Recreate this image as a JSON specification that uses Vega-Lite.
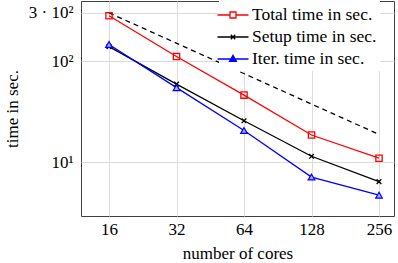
{
  "$schema": "https://vega.github.io/schema/vega-lite/v6.json",
  "width": 313,
  "height": 215,
  "autosize": {"type": "none"},
  "padding": {"left": 81, "top": 1, "right": 4, "bottom": 47},
  "background": "white",
  "config": {
    "view": {"stroke": "#404040", "strokeWidth": 1},
    "font": "Liberation Serif",
    "axis": {
      "labelFont": "Liberation Serif",
      "labelFontSize": 17,
      "labelColor": "#000000",
      "titleFont": "Liberation Serif",
      "titleFontSize": 17,
      "titleFontWeight": "normal",
      "titleColor": "#000000",
      "gridColor": "#dcdcdc",
      "gridWidth": 1,
      "domain": false,
      "ticks": false
    }
  },
  "datasets": {
    "main": [
      {"series": "Total time in sec.", "cores": 16, "time": 281},
      {"series": "Total time in sec.", "cores": 32, "time": 111},
      {"series": "Total time in sec.", "cores": 64, "time": 46},
      {"series": "Total time in sec.", "cores": 128, "time": 18.5},
      {"series": "Total time in sec.", "cores": 256, "time": 10.9},
      {"series": "Setup time in sec.", "cores": 16, "time": 139},
      {"series": "Setup time in sec.", "cores": 32, "time": 59},
      {"series": "Setup time in sec.", "cores": 64, "time": 25.6},
      {"series": "Setup time in sec.", "cores": 128, "time": 11.4},
      {"series": "Setup time in sec.", "cores": 256, "time": 6.4},
      {"series": "Iter. time in sec.", "cores": 16, "time": 146},
      {"series": "Iter. time in sec.", "cores": 32, "time": 54.5},
      {"series": "Iter. time in sec.", "cores": 64, "time": 20.5},
      {"series": "Iter. time in sec.", "cores": 128, "time": 7.1},
      {"series": "Iter. time in sec.", "cores": 256, "time": 4.7}
    ],
    "ideal": [
      {"cores": 16, "time": 300},
      {"cores": 256, "time": 18.75}
    ]
  },
  "encoding": {
    "x": {
      "field": "cores",
      "type": "quantitative",
      "scale": {"type": "log", "base": 2, "domain": [12, 298.6], "nice": false},
      "axis": {"values": [16, 32, 64, 128, 256], "title": "number of cores", "titleFont": "Liberation Serif", "titleFontSize": 17, "titleFontWeight": "normal", "labelPadding": 5, "titlePadding": 8, "labelFlush": false, "grid": true}
    },
    "y": {
      "field": "time",
      "type": "quantitative",
      "scale": {"type": "log", "domain": [2.92, 393], "nice": false},
      "axis": {
        "values": [10, 100, 300],
        "labelExpr": "datum.value == 300 ? '3 · 10²' : (datum.value == 100 ? '10²' : '10¹')",
        "title": "time in sec.",
        "titleFont": "Liberation Serif",
        "titleFontSize": 17,
        "titleFontWeight": "normal",
        "labelPadding": 8,
        "titlePadding": 7,
        "labelFlush": false,
        "grid": true
      }
    }
  },
  "layer": [
    {
      "data": {"name": "ideal"},
      "mark": {"type": "line", "color": "#000000", "strokeDash": [5, 4], "strokeWidth": 1.3}
    },
    {
      "data": {"name": "main"},
      "mark": {"type": "line", "strokeWidth": 1.3},
      "encoding": {
        "color": {
          "field": "series",
          "type": "nominal",
          "sort": null,
          "scale": {
            "domain": ["Total time in sec.", "Setup time in sec.", "Iter. time in sec."],
            "range": ["#ff0000", "#000000", "#0000ff"]
          },
          "legend": {
            "title": null,
            "orient": "none",
            "legendX": 138,
            "legendY": 0,
            "padding": 3,
            "fillColor": "white",
            "strokeColor": null,
            "labelFont": "Liberation Serif",
            "labelFontSize": 17.5,
            "labelColor": "#000000",
            "labelOffset": 8,
            "rowPadding": 2,
            "symbolSize": 400,
            "symbolStrokeWidth": 1.3,
            "encode": {
              "symbols": {
                "update": {
                  "shape": {"signal": "datum.value === 'Total time in sec.' ? 'M-1.55,0H-0.3M0.3,0H1.55M-0.3,-0.3H0.3V0.3H-0.3Z' : (datum.value === 'Setup time in sec.' ? 'M-1.55,0H1.55M-0.22,-0.22L0.22,0.22M-0.22,0.22L0.22,-0.22' : 'M-1.55,0H1.55M0,-0.36L0.34,0.24H-0.34Z')"},
                  "fill": {"signal": "datum.value === 'Iter. time in sec.' ? '#0000ff' : 'transparent'"}
                }
              }
            }
          }
        }
      }
    },
    {
      "data": {"name": "main"},
      "transform": [{"filter": "datum.series === 'Total time in sec.'"}],
      "mark": {"type": "point", "shape": "square", "filled": false, "color": "#ff0000", "size": 40, "strokeWidth": 1.3, "opacity": 1}
    },
    {
      "data": {"name": "main"},
      "transform": [{"filter": "datum.series === 'Setup time in sec.'"}],
      "mark": {"type": "point", "shape": "M-1,-1L1,1M-1,1L1,-1", "filled": false, "color": "#000000", "size": 22, "strokeWidth": 1.3, "opacity": 1}
    },
    {
      "data": {"name": "main"},
      "transform": [{"filter": "datum.series === 'Iter. time in sec.'"}],
      "mark": {"type": "point", "shape": "triangle-up", "filled": true, "fill": "#a8a8ff", "stroke": "#0000ff", "size": 45, "strokeWidth": 1.2, "opacity": 1}
    }
  ]
}
